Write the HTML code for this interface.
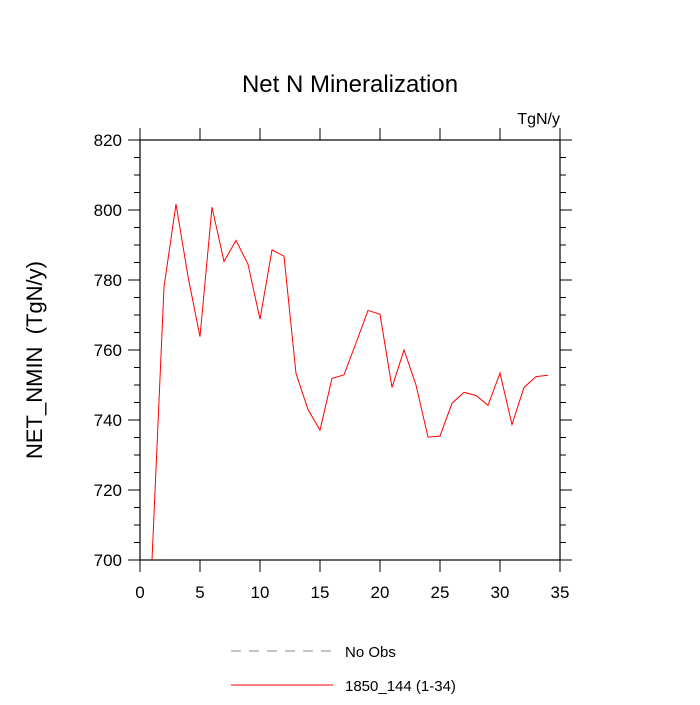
<!DOCTYPE html>
<html><head><meta charset="utf-8"><style>
body{margin:0;background:#fff;}
svg text{font-family:"Liberation Sans",sans-serif;fill:#000;}
</style></head><body>
<svg width="700" height="700">
<text x="350" y="92" font-size="24" text-anchor="middle">Net N Mineralization</text>
<text x="560" y="124" font-size="16" text-anchor="end">TgN/y</text>
<text transform="translate(42,360) rotate(-90)" font-size="22" text-anchor="middle" style="white-space:pre">NET_NMIN  (TgN/y)</text>
<g id="axes"></g>
<clipPath id="clip"><rect x="140" y="140" width="420" height="420"/></clipPath>
<polyline id="line" clip-path="url(#clip)" fill="none" stroke="#ff0000" stroke-width="1"/>
<g>
<line x1="231" y1="651" x2="333" y2="651" stroke="#888" stroke-dasharray="10,8"/>
<text x="345" y="657" font-size="15">No Obs</text>
<line x1="231" y1="685" x2="333" y2="685" stroke="#ff0000"/>
<text x="345" y="691" font-size="15">1850_144 (1-34)</text>
</g>
</svg>
<script>
const xs=[1,2,3,4,5,6,7,8,9,10,11,12,13,14,15,16,17,18,19,20,21,22,23,24,25,26,27,28,29,30,31,32,33,34];
const vals=[699.9,778,801.7,781,763.8,800.8,785.3,791.3,784.5,768.8,788.6,786.8,753.3,743,737.1,751.9,752.9,762,771.3,770.2,749.3,760,750,735.1,735.4,744.8,747.9,747,744.2,753.4,738.7,749.3,752.4,752.8];
const xTicks=[0,5,10,15,20,25,30,35];
const yTicks=[700,720,740,760,780,800,820];
const L=140,R=560,T=140,B=560;
const sx=v=>L+(v-0)/35*(R-L);
const sy=v=>B-(v-700)/120*(B-T);
const NS="http://www.w3.org/2000/svg";
const g=document.getElementById('axes');
function mk(tag,at){const e=document.createElementNS(NS,tag);for(const k in at)e.setAttribute(k,at[k]);g.appendChild(e);return e;}
const fr=mk('rect',{x:L,y:T,width:R-L,height:B-T,fill:'none',stroke:'#000','stroke-width':1.2});


xTicks.forEach(t=>{const x=sx(t);
mk('line',{x1:x,y1:B,x2:x,y2:B+12,stroke:'#000'});
mk('line',{x1:x,y1:T,x2:x,y2:T-12,stroke:'#000'});
const tx=mk('text',{x:x,y:B+38,'font-size':17,'text-anchor':'middle'});tx.textContent=t;


});
for(let v=700;v<=820;v+=5){const y=sy(v);const len=(v%20===0)?12:6;
mk('line',{x1:L,y1:y,x2:L-len,y2:y,stroke:'#000'});
mk('line',{x1:R,y1:y,x2:R+len,y2:y,stroke:'#000'});}
yTicks.forEach(t=>{const tx=mk('text',{x:L-18,y:sy(t)+6,'font-size':17,'text-anchor':'end'});tx.textContent=t;


});
document.getElementById('line').setAttribute('points',xs.map((x,i)=>sx(x)+','+sy(vals[i])).join(' '));
</script>
</body></html>
